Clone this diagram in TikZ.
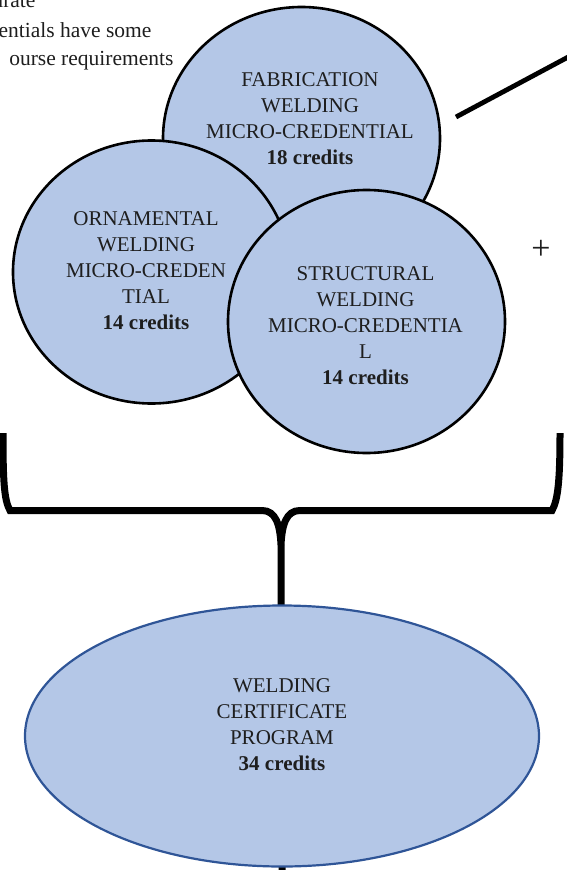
\documentclass[tikz,border=0pt]{standalone}
\usepackage{fontspec}
\setmainfont{Liberation Serif}
\usetikzlibrary{shapes.geometric,backgrounds}
\definecolor{credblue}{HTML}{B4C7E7}
\definecolor{progedge}{HTML}{2F5597}
\definecolor{inkgray}{HTML}{1E1E1E}

\begin{document}
\begin{tikzpicture}[x=1pt,y=-1pt,
    cred/.style={ellipse,draw=black,line width=2.6pt,fill=credblue,
      minimum width=277pt,minimum height=263pt,inner sep=0pt},
    credtxt/.style={align=center,text=inkgray,font=\fontsize{21}{26}\selectfont},
    notetxt/.style={anchor=base east,text=inkgray,font=\fontsize{21.5}{28}\selectfont},
    bracepath/.style={line width=7pt}]

      \useasboundingbox (0,0) rectangle (567,870);
      \clip (0,0) rectangle (567,870);

      % note
      \node[notetxt] (note1) at (39,7) {arate};
      \node[notetxt] (note2) at (155,37) {entials have some};
      \node[notetxt] (note3) at (177,65) {ourse requirements};

      % fab
      \node[cred] (fab) at (301.5,138.5) {};
      \node[credtxt] (fabtxt) at (310,118.5)
        {FABRICATION\\WELDING\\MICRO-CREDENTIAL\\\textbf{18 credits}};

      % orn
      \node[cred] (orn) at (151.5,272) {};
      \node[credtxt] (orntxt) at (146,270.5)
        {ORNAMENTAL\\WELDING\\MICRO-CREDEN\\TIAL\\\textbf{14 credits}};

      % str
      \node[cred] (str) at (366.5,321.5) {};
      \node[credtxt] (strtxt) at (365.5,326)
        {STRUCTURAL\\WELDING\\MICRO-CREDENTIA\\L\\\textbf{14 credits}};

      % link
      \path (456,117) coordinate (lnk1); \path (600,40) coordinate (lnk2);
      \draw[line width=4.8pt] (lnk1) to (lnk2);

      % plus
      \node[text=inkgray,font=\fontsize{34}{34}\selectfont] (plus) at (541,250) {+};

      % brace
      \path (3,433) coordinate (bl); \path (560,433) coordinate (br);
      \path (281,545) coordinate (tip);
      \draw[bracepath] (bl) .. controls (3,480) and (4,500) .. (10,510.5)
        -- (262,510.5) .. controls (276,510.5) and (280,525) .. (tip)
        .. controls (282,525) and (286,510.5) .. (300,510.5)
        -- (552,510.5) .. controls (558,500) and (560,480) .. (br);

      % prog
      \node[ellipse,draw=progedge,line width=2.2pt,fill=credblue,
        minimum width=514pt,minimum height=261pt,inner sep=0pt] (prog) at (282,736) {};
      \node[credtxt] (progtxt) at (282,725)
        {WELDING\\CERTIFICATE\\PROGRAM\\\textbf{34 credits}};
      \begin{scope}[on background layer]
        \draw[bracepath,shorten >=-4pt] (tip) to (prog.south);
      \end{scope}

\end{tikzpicture}
\end{document}
